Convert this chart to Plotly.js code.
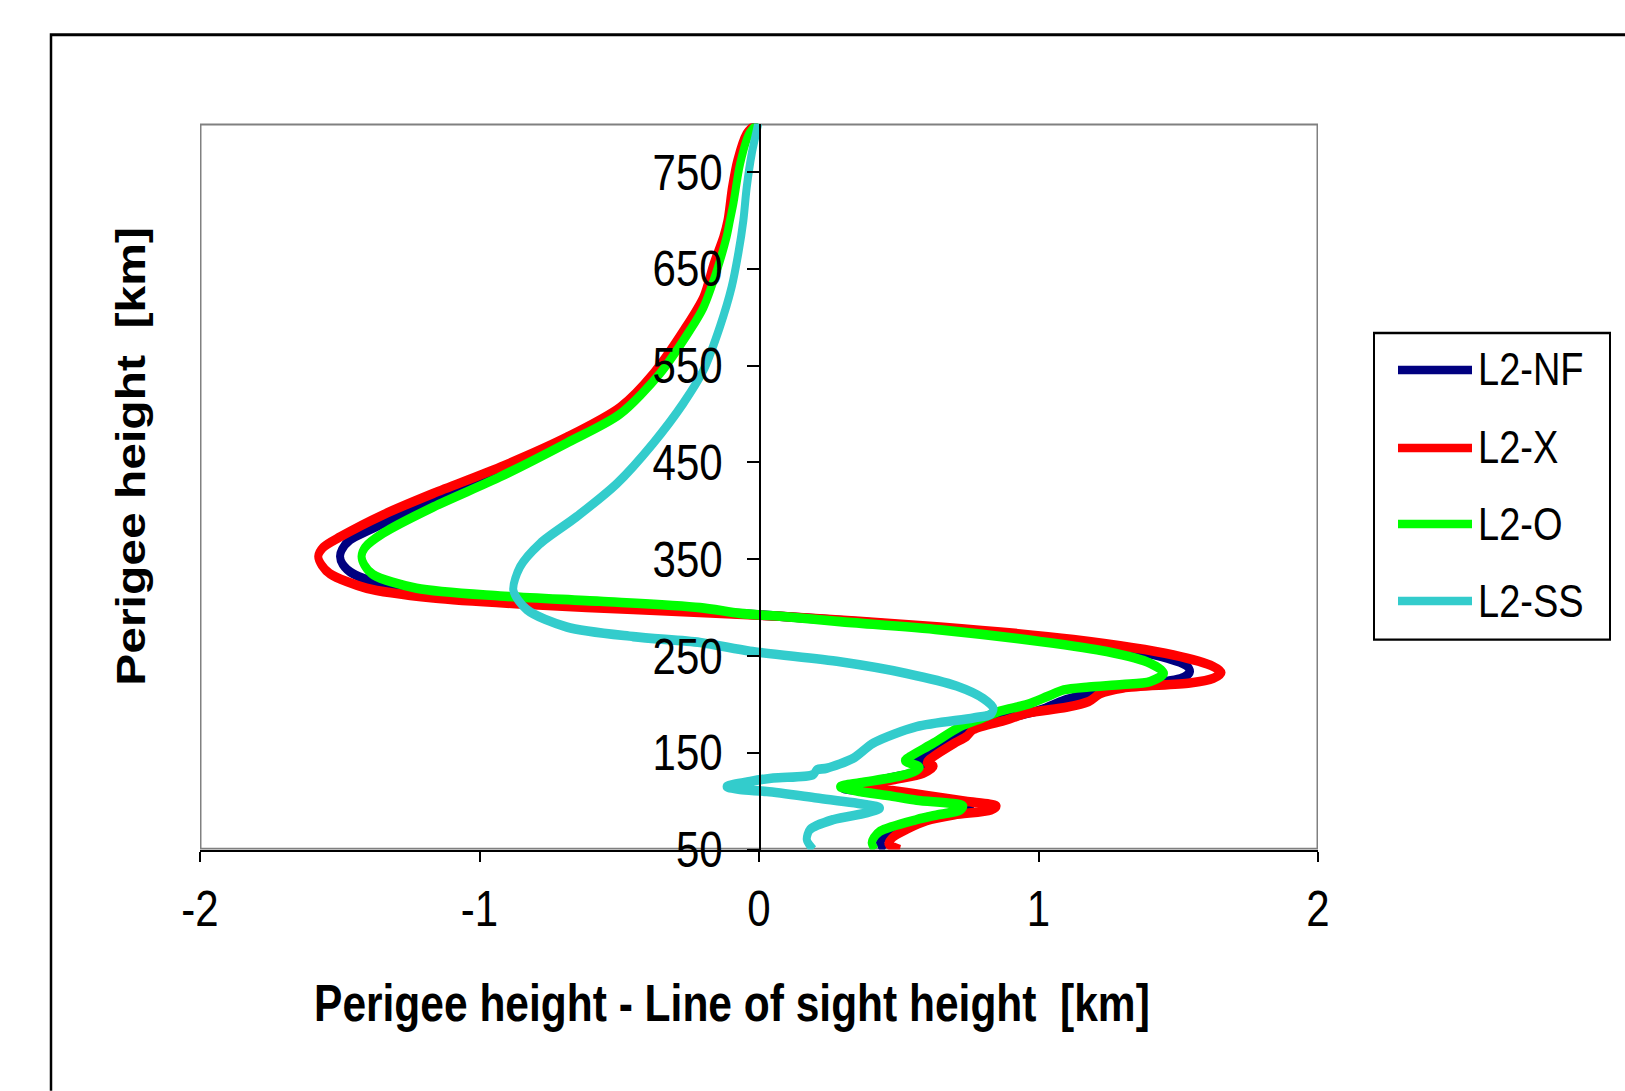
<!DOCTYPE html>
<html>
<head>
<meta charset="utf-8">
<script src="https://cdn.plot.ly/plotly-3.0.1.min.js"></script>
<style>
  html, body { margin: 0; padding: 0; background: #ffffff; width: 1625px; height: 1091px; overflow: hidden; }
  #page { position: relative; width: 1625px; height: 1091px; overflow: hidden; }
  /* the figure is laid out at 1/1.2 of the page height and stretched vertically */
  #stage { position: absolute; left: 0; top: 0; width: 1625px; height: 909px; transform: scaleY(1.2); transform-origin: 0 0; }
</style>
</head>
<body>
<div id="page"><div id="stage"><div id="chart"></div></div></div>
<script>
// Perigee height [km] and (perigee height - line of sight height) [km] per model
const seriesNames = ['L2-NF', 'L2-X', 'L2-O', 'L2-SS'];
const seriesColors = ['#000080', '#ff0000', '#00ff00', '#33cccc'];

const heightNF = [800, 789, 762, 734, 700, 683, 655, 621, 586, 542, 504, 473, 440, 411, 387, 370, 360, 353, 345, 335, 322, 312, 305, 298.5, 291, 279, 266, 251, 240, 234, 228, 222, 218, 212, 204, 194, 182, 172, 160, 148, 141, 136, 132, 124, 117, 113.5, 107, 100, 94.6, 90, 83, 69, 57, 50];
const diffNF   = [-0.005, -0.04, -0.072, -0.092, -0.108, -0.122, -0.157, -0.193, -0.259, -0.366, -0.497, -0.688, -0.927, -1.165, -1.344, -1.463, -1.492, -1.499, -1.49, -1.452, -1.309, -1.046, -0.688, -0.33, 0.075, 0.648, 1.105, 1.42, 1.53, 1.542, 1.52, 1.42, 1.25, 1.184, 1.09, 1.005, 0.826, 0.743, 0.66, 0.588, 0.564, 0.6, 0.588, 0.47, 0.361, 0.302, 0.504, 0.68, 0.755, 0.743, 0.6, 0.469, 0.433, 0.451];

const heightX = [800, 789, 762, 734, 700, 683, 655, 621, 586, 542, 507, 476, 445, 418, 396, 373, 362, 353, 344, 335, 320, 310, 303, 298, 291, 280, 267, 251, 239, 233, 227, 222, 217, 211, 203, 197, 191, 184, 174, 167, 160, 146, 140, 136, 129, 122, 115, 112, 106, 100, 95, 91, 86, 80, 71, 63, 56, 50];
const diffX   = [-0.01, -0.046, -0.078, -0.097, -0.113, -0.128, -0.163, -0.199, -0.271, -0.378, -0.497, -0.688, -0.927, -1.165, -1.344, -1.499, -1.56, -1.577, -1.565, -1.535, -1.404, -1.165, -0.807, -0.45, 0.075, 0.648, 1.125, 1.483, 1.626, 1.655, 1.626, 1.542, 1.303, 1.22, 1.18, 1.1, 0.96, 0.886, 0.767, 0.743, 0.7, 0.624, 0.6, 0.625, 0.588, 0.48, 0.373, 0.45, 0.6, 0.74, 0.85, 0.83, 0.7, 0.6, 0.528, 0.48, 0.463, 0.504];

const heightO = [800, 789, 758, 717, 700, 683, 648, 610, 586.5, 542, 500, 470, 435, 404, 377, 362, 353, 344, 334, 320, 312, 306.5, 300, 294, 291, 285.5, 277, 265, 254.6, 242.6, 232.2, 223.6, 220.5, 218, 215, 208, 200, 193, 186, 177, 160, 146, 142, 135, 132, 126, 119, 115, 110, 106, 101, 95, 91, 86, 81, 69, 62, 57, 50];
const diffO   = [-0.003, -0.036, -0.068, -0.092, -0.104, -0.116, -0.151, -0.199, -0.247, -0.354, -0.497, -0.688, -0.927, -1.165, -1.344, -1.41, -1.422, -1.412, -1.38, -1.225, -0.927, -0.569, -0.211, -0.068, 0.075, 0.29, 0.648, 1.005, 1.244, 1.399, 1.449, 1.399, 1.3, 1.18, 1.09, 1.03, 0.96, 0.862, 0.8, 0.72, 0.624, 0.54, 0.522, 0.575, 0.564, 0.504, 0.361, 0.29, 0.36, 0.46, 0.564, 0.731, 0.72, 0.64, 0.564, 0.433, 0.41, 0.403, 0.415];

const heightSS = [800, 793, 769, 734, 700, 666, 631, 590, 545, 511, 470, 428, 394, 366, 342, 318, 298, 280, 270, 264, 255, 244, 232, 219, 206, 196, 190, 186, 177, 160, 144.5, 134, 132.5, 127.5, 124, 120.4, 115.2, 112, 110, 103.3, 96.4, 93, 88, 81, 70.6, 60.3, 50];
const diffSS   = [-0.003, -0.008, -0.026, -0.044, -0.056, -0.074, -0.098, -0.14, -0.199, -0.271, -0.378, -0.509, -0.652, -0.784, -0.855, -0.879, -0.831, -0.688, -0.45, -0.211, -0.032, 0.29, 0.528, 0.707, 0.803, 0.839, 0.83, 0.767, 0.564, 0.409, 0.338, 0.242, 0.207, 0.194, 0.051, -0.032, -0.116, -0.068, 0.028, 0.207, 0.385, 0.433, 0.385, 0.266, 0.182, 0.171, 0.194];

const xTickVals = [-2, -1, 0, 1, 2];
const xTickText = ['-2', '-1', '0', '1', '2'];
const yTickVals = [50, 150, 250, 350, 450, 550, 650, 750];
const yTickText = ['50', '150', '250', '350', '450', '550', '650', '750'];

const xTitle = 'Perigee height - Line of sight height  [km]';
const yTitle = 'Perigee height  [km]';

const heights = [heightNF, heightX, heightO, heightSS];
const diffs = [diffNF, diffX, diffO, diffSS];

const FONT = 'Liberation Sans, Arial, Helvetica, sans-serif';

// figure geometry (pixels, before the vertical stretch)
const W = 1625, H = 909;
const M = { l: 200, r: 307, t: 103, b: 201 };
const plotW = W - M.l - M.r, plotH = H - M.t - M.b;
const px = x => (x - M.l) / plotW;          // page x -> paper x
const py = y => (H - M.b - y) / plotH;       // page y -> paper y

const traces = seriesNames.map((name, i) => ({
  type: 'scatter',
  mode: 'lines',
  name: name,
  x: diffs[i],
  y: heights[i],
  line: { color: seriesColors[i], width: 8, shape: 'spline', smoothing: 0.8 },
  showlegend: false,
  hoverinfo: 'skip'
}));

const shapes = [
  // outer chart frame
  { type: 'rect', xref: 'paper', yref: 'paper', x0: px(51), x1: 1.6, y0: -0.6, y1: py(29),
    line: { color: '#000000', width: 2.5 }, fillcolor: 'rgba(0,0,0,0)', layer: 'below' },
  // plot area frame
  { type: 'rect', xref: 'x', yref: 'y', x0: -2, x1: 2, y0: 50, y1: 800,
    line: { color: '#808080', width: 3 }, fillcolor: 'rgba(0,0,0,0)', layer: 'below' },
  // legend box
  { type: 'rect', xref: 'paper', yref: 'paper', x0: px(1374), x1: px(1610), y0: py(533), y1: py(277.5),
    line: { color: '#000000', width: 2 }, fillcolor: '#ffffff', layer: 'above' }
];

const annotations = [
  { xref: 'paper', yref: 'paper', x: px(732), y: py(836), xanchor: 'center', yanchor: 'middle',
    text: '<b>' + xTitle + '</b>', showarrow: false, font: { family: FONT, size: 42.5, color: '#000' } },
  { xref: 'paper', yref: 'paper', x: px(131), y: py(380.5), xanchor: 'center', yanchor: 'middle',
    text: '<b>' + yTitle + '</b>', textangle: -90, showarrow: false, font: { family: FONT, size: 40, color: '#000' } }
];

// legend entries: sample line + label
const legendRows = [308.3, 373.3, 436.7, 500.8];
seriesNames.forEach((name, i) => {
  shapes.push({ type: 'line', xref: 'paper', yref: 'paper',
    x0: px(1398), x1: px(1472), y0: py(legendRows[i]), y1: py(legendRows[i]),
    line: { color: seriesColors[i], width: 7 }, layer: 'above' });
  annotations.push({ xref: 'paper', yref: 'paper', x: px(1476), y: py(legendRows[i]),
    xanchor: 'left', yanchor: 'middle', text: name, showarrow: false,
    font: { family: FONT, size: 38, color: '#000' } });
});

const layout = {
  width: W, height: H,
  margin: M,
  paper_bgcolor: '#ffffff', plot_bgcolor: '#ffffff',
  font: { family: FONT, size: 42, color: '#000000' },
  showlegend: false,
  xaxis: {
    range: [-2, 2], domain: [0, 1],
    tickmode: 'array', tickvals: xTickVals, ticktext: xTickText,
    showgrid: false, zeroline: false,
    showline: true, linecolor: '#000000', linewidth: 2,
    ticks: 'outside', ticklen: 8, tickwidth: 2, tickcolor: '#000000',
    ticklabelstandoff: 3,
    tickfont: { family: FONT, size: 42, color: '#000000' }
  },
  yaxis: {
    range: [50, 800],
    anchor: 'free', position: 0.5, side: 'left',
    tickmode: 'array', tickvals: yTickVals, ticktext: yTickText,
    showgrid: false, zeroline: false,
    showline: true, linecolor: '#000000', linewidth: 1.5,
    ticks: 'outside', ticklen: 12, tickwidth: 1.5, tickcolor: '#000000',
    ticklabelstandoff: 16,
    tickfont: { family: FONT, size: 42, color: '#000000' }
  },
  shapes: shapes,
  annotations: annotations
};

Plotly.newPlot('chart', traces, layout, { staticPlot: true, displayModeBar: false });
</script>
</body>
</html>
